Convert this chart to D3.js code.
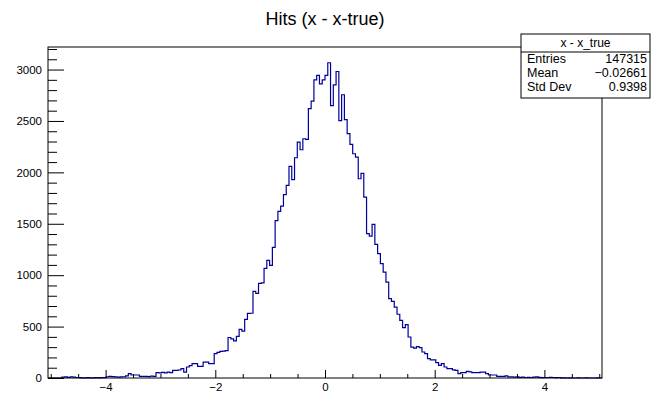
<!DOCTYPE html>
<html>
<head>
<meta charset="utf-8">
<script src="https://cdn.jsdelivr.net/npm/d3@7"></script>
<style>
  body { margin: 0; background: #fff; }
  text { font-family: "Liberation Sans", Arial, Helvetica, sans-serif; fill: #000; }
</style>
</head>
<body>
<div id="chart"></div>
<script>
// bin contents of the histogram, 200 bins between xLow and xHigh
var counts = [
    0,    0,    0,    0,    0,    8,   10,    6,   10,    8,
    5,    3,    2,    1,    3,    2,    2,    3,    1,    4,
    3,   12,   15,   14,   10,    8,   10,   12,   20,   43,
   29,   29,   29,   15,   16,   15,   14,   18,   15,   52,
   50,   55,   50,   58,   52,   75,   75,   78,   91,   58,
  107,  120,  140,  140,  114,  114,  155,  155,  140,  140,
  237,  250,  258,  262,  267,  394,  380,  362,  405,  473,
  455,  570,  628,  630,  843,  823,  920,  925, 1066, 1144,
 1095, 1270, 1531, 1620, 1672, 1783, 1873, 2058, 1929, 2142,
 2294, 2220, 2327, 2320, 2620, 2693, 2900, 2943, 2860, 2900,
 2943, 3066, 2650, 2850, 2981, 2504, 2755, 2512, 2376, 2272,
 2181, 2148, 1938, 1990, 1759, 1404, 1380, 1494, 1300, 1209,
 1112, 1030,  933,  772,  745,  690,  620,  561,  490,  520,
  399,  301,  290,  305,  295,  253,  237,  188,  177,  177,
  150,  123,  140,  107,   91,   91,   80,   75,   43,   52,
   52,   65,   60,   52,   52,   52,   58,   58,   43,   29,
   29,   29,   16,   16,   16,   20,   10,   10,    8,   10,
    7,    8,    5,    7,    5,    8,   10,    6,    4,    5,
    5,    6,    5,    4,    5,    2,    1,    0,    1,    0,
    0,    1,    0,    0,    1,    0,    0,    0,    1,    0
];
var xLow = -5.05, xHigh = 5.05;

var xMajorTicks = [-4, -2, 0, 2, 4];
var xMinorTicks = [-5, -4.5, -3.5, -3, -2.5, -1.5, -1, -0.5, 0.5, 1, 1.5, 2.5, 3, 3.5, 4.5, 5];
var yMajorTicks = [0, 500, 1000, 1500, 2000, 2500, 3000];
var yMinorTicks = [100, 200, 300, 400, 600, 700, 800, 900, 1100, 1200, 1300, 1400,
                   1600, 1700, 1800, 1900, 2100, 2200, 2300, 2400, 2600, 2700, 2800, 2900, 3100, 3200];

var title = "Hits (x - x-true)";
var statsName = "x - x_true";
var statLabels = ["Entries", "Mean", "Std Dev"];
var statValues = ["147315", "\u22120.02661", "0.9398"];

var width = 654, height = 394;
var margin = {left: 48, right: 52, top: 47, bottom: 16};
var w = width - margin.left - margin.right;
var h = height - margin.top - margin.bottom;

var svg = d3.select("#chart")
    .append("svg")
    .attr("width", width)
    .attr("height", height);

var g = svg.append("g")
    .attr("transform", "translate(" + margin.left + "," + margin.top + ")");

var x = d3.scaleLinear().domain([xLow, xHigh]).range([0, w]);
var y = d3.scaleLinear().domain([0, 1.05 * d3.max(counts)]).range([h, 0]);

var binW = (xHigh - xLow) / counts.length;

// step outline of the histogram
var pts = [[xLow, 0]];
counts.forEach(function(c, i) {
    pts.push([xLow + i * binW, c]);
    pts.push([xLow + (i + 1) * binW, c]);
});
pts.push([xHigh, 0]);

g.append("path")
    .datum(pts)
    .attr("fill", "none")
    .attr("stroke", "#000099")
    .attr("stroke-width", 1.2)
    .attr("d", d3.line().x(function(d) { return x(d[0]); }).y(function(d) { return y(d[1]); }));

// y axis, ticks pointing into the frame
g.append("g")
    .attr("class", "y axis")
    .call(d3.axisLeft(y).tickValues(yMinorTicks).tickSizeInner(-9).tickSizeOuter(0).tickFormat(""))
    .call(function(s) { s.select(".domain").remove(); });
g.append("g")
    .attr("class", "y axis")
    .call(d3.axisLeft(y).tickValues(yMajorTicks).tickSizeInner(-16).tickSizeOuter(0)
          .tickPadding(6).tickFormat(d3.format("d")))
    .call(function(s) {
        s.select(".domain").remove();
        s.selectAll("text").style("font-size", "11.5px");
    });

// x axis
g.append("g")
    .attr("class", "x axis")
    .attr("transform", "translate(0," + h + ")")
    .call(d3.axisBottom(x).tickValues(xMinorTicks).tickSizeInner(-4).tickSizeOuter(0).tickFormat(""))
    .call(function(s) { s.select(".domain").remove(); });
g.append("g")
    .attr("class", "x axis")
    .attr("transform", "translate(0," + h + ")")
    .call(d3.axisBottom(x).tickValues(xMajorTicks).tickSizeInner(-8).tickSizeOuter(0).tickPadding(5))
    .call(function(s) {
        s.select(".domain").remove();
        s.selectAll("text").style("font-size", "11.5px");
    });

g.selectAll(".axis line").attr("stroke", "#000");

// frame
g.append("rect")
    .attr("width", w)
    .attr("height", h)
    .attr("fill", "none")
    .attr("stroke", "#000")
    .attr("stroke-width", 1);

// title
svg.append("text")
    .attr("x", 325)
    .attr("y", 25)
    .attr("text-anchor", "middle")
    .style("font-size", "18px")
    .text(title);

// stats box
var box = {x: 521, y: 34, w: 129, h: 64, head: 18};
var stats = svg.append("g").attr("transform", "translate(" + box.x + "," + box.y + ")");
stats.append("rect")
    .attr("width", box.w)
    .attr("height", box.h)
    .attr("fill", "#fff")
    .attr("stroke", "#000");
stats.append("line")
    .attr("x1", 0).attr("x2", box.w)
    .attr("y1", box.head).attr("y2", box.head)
    .attr("stroke", "#000");
stats.append("text")
    .attr("x", box.w / 2)
    .attr("y", 9)
    .attr("dy", "0.35em")
    .attr("text-anchor", "middle")
    .style("font-size", "12px")
    .text(statsName);
statLabels.forEach(function(lab, i) {
    var ty = box.head + 6.5 + i * 14.2;
    stats.append("text")
        .attr("x", 6).attr("y", ty).attr("dy", "0.35em")
        .style("font-size", "12.5px")
        .text(lab);
    stats.append("text")
        .attr("x", box.w - 3).attr("y", ty).attr("dy", "0.35em")
        .attr("text-anchor", "end")
        .style("font-size", "12.5px")
        .text(statValues[i]);
});
</script>
</body>
</html>
